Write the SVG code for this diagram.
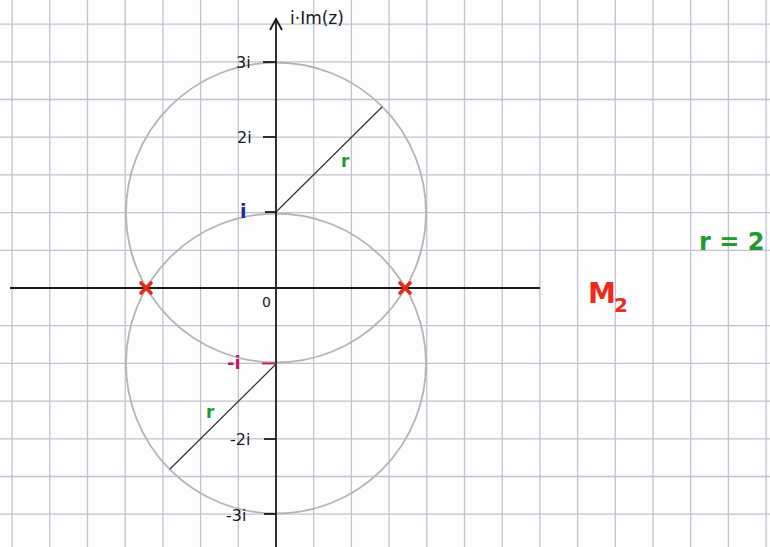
<svg xmlns="http://www.w3.org/2000/svg" width="770" height="547" viewBox="0 0 770 547">
  <defs>
    <style>
      .grid { stroke: #c2c2d0; stroke-width: 1.3; fill: none; }
      .axis { stroke: #1a1a1a; stroke-width: 1.8; fill: none; }
      .circ { stroke: #b4b4b4; stroke-width: 1.8; fill: none; }
      .rad { stroke: #333; stroke-width: 1.2; fill: none; }
      .tick { stroke: #1a1a1a; stroke-width: 1.8; }
      .lbl { font-family: "DejaVu Sans", "Liberation Sans", sans-serif; fill: #1a1a1a; }
      .green { fill: #1e9a2e; font-family: "DejaVu Sans", "Liberation Sans", sans-serif; font-weight: bold; }
      .greeneq { fill: #1e9a2e; font-family: "DejaVu Sans", "Liberation Sans", sans-serif; font-weight: 600; }
      .red { fill: #ee2a1a; font-family: "DejaVu Sans", "Liberation Sans", sans-serif; font-weight: 600; }
      .cross { stroke: #e8281a; stroke-width: 3.6; stroke-linecap: round; }
    </style>
  </defs>
  <rect width="770" height="547" fill="#fdfdfd"/>
  <g id="grid" class="grid">
    <path d="M12.1 0V547M49.8 0V547M87.5 0V547M125.2 0V547M162.9 0V547M200.6 0V547M238.3 0V547M313.7 0V547M351.4 0V547M389.1 0V547M426.8 0V547M464.5 0V547M502.2 0V547M539.9 0V547M577.6 0V547M615.3 0V547M653 0V547M690.7 0V547M728.4 0V547M766.1 0V547"/>
    <path d="M0 24.1H770M0 61.8H770M0 99.5H770M0 137.2H770M0 174.9H770M0 212.6H770M0 250.3H770M0 325.7H770M0 363.4H770M0 401.1H770M0 438.8H770M0 476.5H770M0 514.2H770"/>
  </g>
  <g id="circles">
    <circle id="upper-circle" class="circ" cx="276" cy="212.5" r="150"/>
    <circle id="lower-circle" class="circ" cx="276" cy="363.5" r="150"/>
  </g>
  <g id="connectors">
    <line id="x-axis" class="axis" x1="10" y1="288" x2="540" y2="288"/>
    <line id="y-axis" class="axis" x1="276" y1="547" x2="276" y2="20"/>
    <path class="axis" d="M270 30L276 19L282 30"/>
    <line id="radius-upper" class="rad" x1="276" y1="212" x2="382" y2="107"/>
    <line id="radius-lower" class="rad" x1="276" y1="364" x2="170" y2="469"/>
  </g>
  <g id="ticks">
    <line class="tick" x1="263" y1="62" x2="276" y2="62"/>
    <line class="tick" x1="263" y1="137" x2="276" y2="137"/>
    <line class="tick" x1="265" y1="212" x2="277" y2="212" stroke-width="2.6"/>
    <line class="tick" x1="262" y1="363.5" x2="276" y2="363.5" style="stroke:#c0195a" stroke-width="2.6"/>
    <line class="tick" x1="264" y1="439" x2="276" y2="439"/>
    <line class="tick" x1="264" y1="514" x2="276" y2="514"/>
  </g>
  <g id="labels">
    <text class="lbl" x="290" y="24" font-size="17">i·Im(z)</text>
    <text class="lbl" x="236" y="68" font-size="16">3i</text>
    <text class="lbl" x="237" y="143" font-size="16">2i</text>
    <text x="240" y="218" font-size="19" font-weight="bold" fill="#1a2f8f" font-family="DejaVu Sans, sans-serif">i</text>
    <text class="lbl" x="262" y="307" font-size="14">0</text>
    <text x="227" y="369" font-size="18" font-weight="bold" fill="#c0195a" font-family="DejaVu Sans, sans-serif">-i</text>
    <text class="lbl" x="230" y="445" font-size="16">-2i</text>
    <text class="lbl" x="226" y="521" font-size="16">-3i</text>
  </g>
  <g id="points">
    <path class="cross" d="M141 283L151 293M151 283L141 293"/>
    <path class="cross" d="M400 283L410 293M410 283L400 293"/>
  </g>
  <g id="radius-labels">
    <text class="green" x="341" y="167" font-size="17">r</text>
    <text class="green" x="206" y="418" font-size="17">r</text>
  </g>
  <g id="M2">
    <text class="red" x="588" y="303" font-size="28">M</text>
    <text class="red" x="614" y="312" font-size="20">2</text>
  </g>
  <g id="r-eq">
    <text class="greeneq" x="699" y="250" font-size="24">r = 2</text>
  </g>
</svg>
